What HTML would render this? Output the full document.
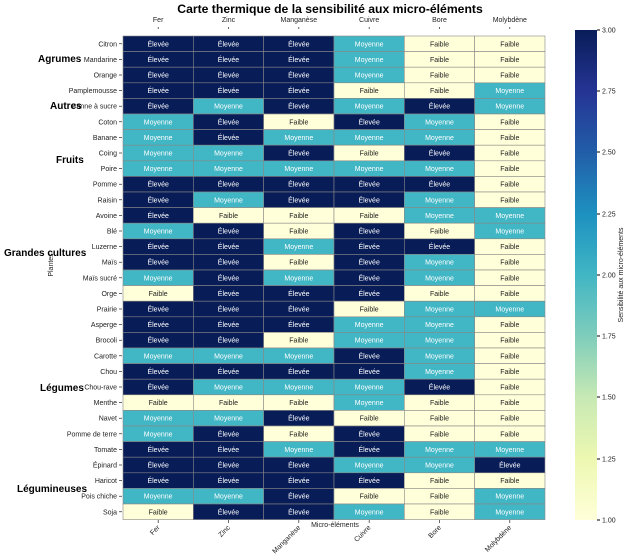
<!DOCTYPE html>
<html><head><meta charset="utf-8"><style>body{margin:0;background:#fff}svg{display:block;font-family:"Liberation Sans","DejaVu Sans",sans-serif}</style></head><body>
<svg width="629" height="560" xmlns="http://www.w3.org/2000/svg">
<defs><linearGradient id="cb" x1="0" y1="1" x2="0" y2="0">
<stop offset="0" stop-color="#ffffd9"/><stop offset="0.125" stop-color="#edf8b1"/><stop offset="0.25" stop-color="#c7e9b4"/><stop offset="0.375" stop-color="#7fcdbb"/><stop offset="0.5" stop-color="#41b6c4"/><stop offset="0.625" stop-color="#1d91c0"/><stop offset="0.75" stop-color="#225ea8"/><stop offset="0.875" stop-color="#253494"/><stop offset="1" stop-color="#081d58"/></linearGradient></defs>
<text x="330" y="13" font-size="12.2" font-weight="bold" text-anchor="middle">Carte thermique de la sensibilité aux micro-éléments</text>
<g id="g"></g>
<rect x="575" y="30" width="22" height="490" fill="url(#cb)"/>
<g font-size="7" fill="#222">
<line x1="597" y1="30" x2="600" y2="30" stroke="#000"/><text x="602" y="32.5">3.00</text>
<line x1="597" y1="91" x2="600" y2="91" stroke="#000"/><text x="602" y="93.5">2.75</text>
<line x1="597" y1="152" x2="600" y2="152" stroke="#000"/><text x="602" y="154.5">2.50</text>
<line x1="597" y1="214" x2="600" y2="214" stroke="#000"/><text x="602" y="216.5">2.25</text>
<line x1="597" y1="275" x2="600" y2="275" stroke="#000"/><text x="602" y="277.5">2.00</text>
<line x1="597" y1="336" x2="600" y2="336" stroke="#000"/><text x="602" y="338.5">1.75</text>
<line x1="597" y1="397" x2="600" y2="397" stroke="#000"/><text x="602" y="399.5">1.50</text>
<line x1="597" y1="459" x2="600" y2="459" stroke="#000"/><text x="602" y="461.5">1.25</text>
<line x1="597" y1="520" x2="600" y2="520" stroke="#000"/><text x="602" y="522.5">1.00</text>
<text transform="translate(623,275) rotate(-90)" text-anchor="middle">Sensibilité aux micro-éléments</text>
<text x="335" y="527" text-anchor="middle">Micro-éléments</text>
<text transform="translate(53,265) rotate(-90)" text-anchor="middle">Plantes</text>
</g>
<g font-size="10" font-weight="bold">
<text x="38" y="62">Agrumes</text><text x="50" y="109">Autres</text><text x="56" y="163">Fruits</text>
<text x="4" y="256">Grandes cultures</text><text x="40" y="391">Légumes</text><text x="17" y="492">Légumineuses</text>
</g>
</svg>
<script>
var rows=[["Citron","EEEMFF"],["Mandarine","EEEMFF"],["Orange","EEEMFF"],["Pamplemousse","EEEFFM"],["Canne à sucre","EMEMEM"],["Coton","MEFEMF"],["Banane","MEMMMF"],["Coing","MMEFEF"],["Poire","MMMMMF"],["Pomme","EEEEEF"],["Raisin","EMEEMF"],["Avoine","EFFFMM"],["Blé","MEFEFM"],["Luzerne","EEMEEF"],["Maïs","EEFEMF"],["Maïs sucré","MEMEMF"],["Orge","FEEEFF"],["Prairie","EEEFMM"],["Asperge","EEEMMF"],["Brocoli","EEFMMF"],["Carotte","MMMEMF"],["Chou","EEEEMF"],["Chou-rave","EMMMEF"],["Menthe","FFFMFF"],["Navet","MMEFFF"],["Pomme de terre","MEFEFF"],["Tomate","EEMEMM"],["Épinard","EEEMME"],["Haricot","EEEEFF"],["Pois chiche","MMEFFM"],["Soja","FEEMFM"]];
var cols=["Fer","Zinc","Manganèse","Cuivre","Bore","Molybdène"];
var col={E:"#081d58",M:"#41b6c4",F:"#ffffd9"},txt={E:"Élevée",M:"Moyenne",F:"Faible"},tc={E:"#fff",M:"#fff",F:"#222"};
var x0=123,y0=36,cw=70.33,rh=15.6,s="";
rows.forEach(function(r,i){var y=y0+i*rh;
s+='<text x="117" y="'+(y+rh/2+2.5)+'" font-size="7" text-anchor="end" fill="#222">'+r[0]+'</text><line x1="119" y1="'+(y+rh/2)+'" x2="122" y2="'+(y+rh/2)+'" stroke="#000" stroke-width="0.6"/>';
for(var j=0;j<6;j++){var c=r[1][j],x=x0+j*cw;
s+='<rect x="'+x+'" y="'+y+'" width="'+cw+'" height="'+rh+'" fill="'+col[c]+'" stroke="#888" stroke-width="0.6"/>';
s+='<text x="'+(x+cw/2)+'" y="'+(y+rh/2+2.5)+'" font-size="7" text-anchor="middle" fill="'+tc[c]+'">'+txt[c]+'</text>';}});
cols.forEach(function(c,j){var x=x0+j*cw+cw/2;
s+='<text x="'+x+'" y="22" font-size="7" text-anchor="middle" fill="#222">'+c+'</text><line x1="'+x+'" y1="27" x2="'+x+'" y2="29" stroke="#000" stroke-width="0.6"/>';
s+='<line x1="'+x+'" y1="520" x2="'+x+'" y2="523" stroke="#000" stroke-width="0.6"/>';
s+='<text transform="translate('+(x+2)+',528) rotate(-45)" font-size="7" text-anchor="end" fill="#222">'+c+'</text>';});
document.getElementById("g").innerHTML=s;
</script>
</body></html>
